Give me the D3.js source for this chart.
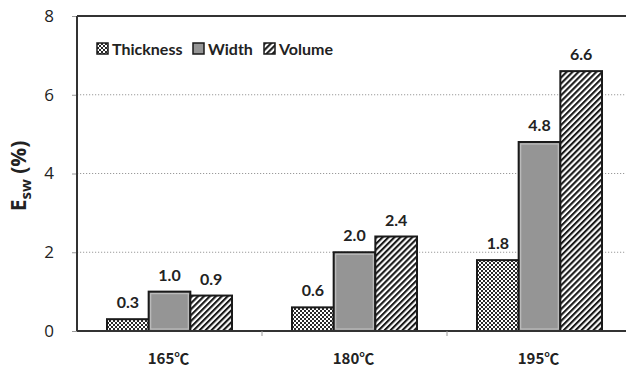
<!DOCTYPE html>
<html>
<head>
<meta charset="utf-8">
<script src="https://cdn.jsdelivr.net/npm/d3@7"></script>
<style>
  html, body { margin: 0; padding: 0; background: #fff; }
  svg { display: block; font-family: Lato, "Noto Sans", sans-serif; }
</style>
</head>
<body>
<svg id="chart" width="626" height="369"></svg>
<script>
// Swelling ratio by drying temperature
const categories = ["165℃", "180℃", "195℃"];
const seriesNames = ["Thickness", "Width", "Volume"];
const thickness = [0.3, 0.6, 1.8];
const width = [1.0, 2.0, 4.8];
const volume = [0.9, 2.4, 6.6];
const yTicks = [0, 2, 4, 6, 8];

const seriesValues = { Thickness: thickness, Width: width, Volume: volume };

const svg = d3.select("#chart");
const W = 626, H = 369;
const plotLeft = 77, plotTop = 16, plotBottom = 331, plotRight = 632;

// patterns
const defs = svg.append("defs");
const chk = defs.append("pattern").attr("id", "pat-thick")
  .attr("patternUnits", "userSpaceOnUse").attr("width", 4).attr("height", 4);
chk.append("rect").attr("width", 4).attr("height", 4).attr("fill", "#fff");
chk.append("rect").attr("x", 0).attr("y", 0).attr("width", 2).attr("height", 2).attr("fill", "#2a2a2a");
chk.append("rect").attr("x", 2).attr("y", 2).attr("width", 2).attr("height", 2).attr("fill", "#2a2a2a");

const diag = defs.append("pattern").attr("id", "pat-vol")
  .attr("patternUnits", "userSpaceOnUse").attr("width", 4.2).attr("height", 4.2)
  .attr("patternTransform", "rotate(45)");
diag.append("rect").attr("width", 4.2).attr("height", 4.2).attr("fill", "#fff");
diag.append("rect").attr("x", 0).attr("y", 0).attr("width", 2.1).attr("height", 4.2).attr("fill", "#1a1a1a");

const fills = { Thickness: "url(#pat-thick)", Width: "#959595", Volume: "url(#pat-vol)" };

const x0 = d3.scaleBand().domain(categories).range([plotLeft, plotRight]).paddingInner(0).paddingOuter(0);
const x1 = d3.scaleBand().domain(seriesNames).range([0, x0.bandwidth()]).paddingInner(0).paddingOuter(0.72);
const y = d3.scaleLinear().domain([0, 8]).range([plotBottom, plotTop]);

// gridlines
svg.append("g").selectAll("line").data(yTicks.filter(t => t > 0 && t < 8)).join("line")
  .attr("x1", plotLeft).attr("x2", W).attr("y1", d => y(d)).attr("y2", d => y(d))
  .attr("stroke", "#9a9a9a").attr("stroke-width", 1).attr("stroke-dasharray", "1.2,1.8");

// y axis
const yAxis = d3.axisLeft(y).tickValues(yTicks).tickSize(5).tickPadding(18).tickFormat(d3.format("d"));
const gy = svg.append("g").attr("transform", `translate(${plotLeft},0)`).call(yAxis);
gy.select(".domain").remove();
gy.selectAll(".tick line").attr("stroke", "#999");
gy.selectAll(".tick text").attr("font-size", 17).attr("fill", "#222")
  .attr("font-family", "Open Sans, sans-serif");

// bars
const groups = svg.append("g").selectAll("g").data(categories).join("g")
  .attr("transform", d => `translate(${x0(d)},0)`);

groups.each(function(cat, i) {
  const g = d3.select(this);
  seriesNames.forEach(s => {
    const v = seriesValues[s][i];
    const bx = x1(s), bw = x1.bandwidth();
    g.append("rect")
      .attr("x", bx).attr("y", y(v)).attr("width", bw).attr("height", y(0) - y(v))
      .attr("fill", fills[s]).attr("stroke", "#1a1a1a").attr("stroke-width", 2);
    if (s === "Width") {
      g.append("rect")
        .attr("x", bx + 2).attr("y", y(v) + 2).attr("width", bw - 4).attr("height", Math.max(0, y(0) - y(v) - 4))
        .attr("fill", "none").attr("stroke", "#bdbdbd").attr("stroke-width", 1.2);
    }
    g.append("text")
      .attr("x", bx + bw / 2).attr("y", y(v) - 11)
      .attr("text-anchor", "middle").attr("font-size", 16).attr("font-weight", 700).attr("fill", "#222")
      .text(v.toFixed(1));
  });
});

// frame: left axis, top border, baseline
svg.append("line").attr("x1", plotLeft).attr("x2", plotLeft).attr("y1", plotTop).attr("y2", plotBottom)
  .attr("stroke", "#333").attr("stroke-width", 2);
svg.append("line").attr("x1", plotLeft).attr("x2", W).attr("y1", plotTop).attr("y2", plotTop)
  .attr("stroke", "#333").attr("stroke-width", 2);
svg.append("line").attr("x1", plotLeft).attr("x2", W).attr("y1", plotBottom).attr("y2", plotBottom)
  .attr("stroke", "#333").attr("stroke-width", 2);

// category boundary ticks
svg.append("g").selectAll("line").data(categories.slice(1)).join("line")
  .attr("x1", d => x0(d)).attr("x2", d => x0(d)).attr("y1", plotBottom).attr("y2", plotBottom + 5)
  .attr("stroke", "#999").attr("stroke-width", 1);

// x labels
svg.append("g").selectAll("text").data(categories).join("text")
  .attr("x", d => x0(d) + x0.bandwidth() / 2 - 1).attr("y", 364)
  .attr("text-anchor", "middle").attr("font-size", 15).attr("font-weight", 600).attr("fill", "#222")
  .attr("font-family", "Noto Sans CJK KR, sans-serif")
  .text(d => d);

// y title
const yt = svg.append("text").attr("transform", "translate(26,176) rotate(-90)")
  .attr("text-anchor", "middle").attr("font-size", 21).attr("font-weight", 700).attr("fill", "#222")
  .attr("font-family", "Open Sans, sans-serif");
yt.append("tspan").text("E");
yt.append("tspan").attr("font-size", 15).attr("dy", 5).text("sw");
yt.append("tspan").attr("dy", -5).text(" (%)");

// legend
const legendX = [97, 193, 264];
const lg = svg.append("g").selectAll("g").data(seriesNames).join("g")
  .attr("transform", (d, i) => `translate(${legendX[i]},43)`);
lg.append("rect").attr("width", 11).attr("height", 11)
  .attr("fill", d => fills[d]).attr("stroke", "#1a1a1a").attr("stroke-width", 1.5);
lg.append("text").attr("x", 15).attr("y", 11.5)
  .attr("font-size", 16).attr("font-weight", 700).attr("fill", "#222")
  .text(d => d);
</script>
</body>
</html>
